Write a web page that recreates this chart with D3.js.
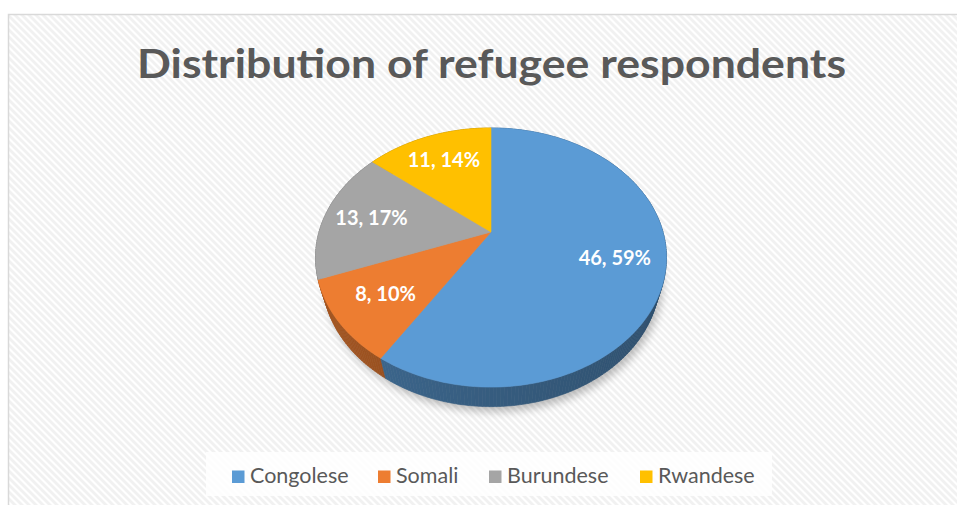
<!DOCTYPE html>
<html>
<head>
<meta charset="utf-8">
<script src="https://cdn.jsdelivr.net/npm/d3@7"></script>
<style>
  html, body { margin: 0; padding: 0; background: #fff; }
  svg { display: block; }
</style>
</head>
<body>
<svg id="chart" width="957" height="505"></svg>
<script>
// Refugee respondents by nationality
const categories = ["Congolese", "Somali", "Burundese", "Rwandese"];
const counts = [46, 8, 13, 11];
const colors = ["#5B9BD5", "#ED7D31", "#A5A5A5", "#FFC000"];
const title = "Distribution of refugee respondents";

const W = 957, H = 505;
const svg = d3.select("#chart");
const defs = svg.append("defs");

// diagonal striped chart-area fill
const pat = defs.append("pattern")
  .attr("id", "stripes").attr("patternUnits", "userSpaceOnUse")
  .attr("width", 7).attr("height", 7);
pat.append("rect").attr("width", 7).attr("height", 7).attr("fill", "#ffffff");
pat.append("path")
  .attr("d", "M-2,5 L2,9 M0,0 L7,7 M5,-2 L9,2")
  .attr("stroke", "#f1f1f1").attr("stroke-width", 2.8);

const blur = defs.append("filter").attr("id", "soft")
  .attr("x", "-20%").attr("y", "-20%").attr("width", "140%").attr("height", "140%");
blur.append("feGaussianBlur").attr("stdDeviation", 4);

// chart frame
svg.append("rect")
  .attr("x", 8.5).attr("y", 14.5).attr("width", W + 20).attr("height", H + 20)
  .attr("fill", "url(#stripes)").attr("stroke", "#d9d9d9").attr("stroke-width", 1.5);

// title
const titleText = svg.append("text")
  .attr("x", 491.5).attr("y", 78)
  .attr("text-anchor", "middle")
  .attr("font-family", "Lato, 'Open Sans', sans-serif")
  .attr("font-weight", 700).attr("font-size", 40)
  .attr("fill", "#595959")
  .text(title);
const tw = titleText.node().getComputedTextLength();
if (Math.abs(tw - 709) > 4) {
  titleText.attr("textLength", 709).attr("lengthAdjust", "spacingAndGlyphs");
}

// ---- perspective 3D pie ----
const view = {
  cx: 491, cy: 232,      // projected centre of the top face
  F: 172,                // focal scale (px per radius at centre depth)
  sinT: 0.724, cosT: 0.690, // tilt of the disc towards the viewer
  dist: 3.5,             // camera distance in radii
  thick: 0.19            // disc thickness in radii
};
function project(theta, r, level) {
  const X = r * Math.sin(theta);
  const Z = -r * Math.cos(theta);
  const Y = level;
  const w = 1 - (Y * view.sinT + Z * view.cosT) / view.dist;
  return [view.cx + view.F * X / w, view.cy + view.F * (Z * view.sinT - Y * view.cosT) / w];
}

const pie = d3.pie().sort(null).value(d => d)
  .startAngle(0).endAngle(2 * Math.PI);
const arcs = pie(counts);
const total = d3.sum(counts);
const line = d3.line();
const stepA = Math.PI / 180;

function arcAngles(a0, a1) {
  const n = Math.max(2, Math.ceil((a1 - a0) / stepA));
  return d3.range(n + 1).map(i => a0 + (a1 - a0) * i / n);
}

const pieG = svg.append("g");

// soft drop shadow under the disc
const baseRing = arcAngles(0, 2 * Math.PI).map(a => project(a, 1, -view.thick));
pieG.append("path")
  .attr("d", line(baseRing) + "Z")
  .attr("transform", "translate(3,5)")
  .attr("fill", "#000").attr("opacity", 0.25)
  .attr("filter", "url(#soft)");

// side walls, split into thin segments and painted far-to-near
const walls = [];
arcs.forEach((d, i) => {
  const angs = arcAngles(d.startAngle, d.endAngle);
  for (let j = 0; j < angs.length - 1; j++) {
    const a = angs[j], b = angs[j + 1], m = (a + b) / 2;
    walls.push({ i, a, b, depth: -Math.cos(m), m });
  }
});
walls.sort((p, q) => p.depth - q.depth);
function wallColor(s) {
  const lit = 0.5 - 0.5 * Math.sin(s.m); // brighter on the left
  return d3.color(colors[s.i]).darker(1.9 - 0.9 * lit).formatHex();
}
pieG.selectAll("path.wall").data(walls).join("path")
  .attr("class", "wall")
  .attr("d", s => line([
    project(s.a, 1, 0), project(s.b, 1, 0),
    project(s.b, 1, -view.thick), project(s.a, 1, -view.thick)
  ]) + "Z")
  .attr("fill", wallColor)
  .attr("stroke", wallColor)
  .attr("stroke-width", 0.6);

// top faces
pieG.selectAll("path.top").data(arcs).join("path")
  .attr("class", "top")
  .attr("d", d => line([project(0, 0, 0)].concat(
    arcAngles(d.startAngle, d.endAngle).map(a => project(a, 1, 0)))) + "Z")
  .attr("fill", (d, i) => colors[i])
  .attr("stroke", (d, i) => colors[i])
  .attr("stroke-width", 0.6);

// data labels: "value, percent"
pieG.selectAll("text.lbl").data(arcs).join("text")
  .attr("class", "lbl")
  .attr("x", d => project((d.startAngle + d.endAngle) / 2, 0.72, 0)[0])
  .attr("y", d => project((d.startAngle + d.endAngle) / 2, 0.72, 0)[1])
  .attr("dy", "0.36em")
  .attr("text-anchor", "middle")
  .attr("font-family", "Lato, 'Open Sans', sans-serif")
  .attr("font-weight", 700).attr("font-size", 20)
  .attr("fill", "#ffffff")
  .text(d => `${d.value}, ${Math.round(d.value / total * 100)}%`);

// ---- legend ----
svg.append("rect")
  .attr("x", 206).attr("y", 452).attr("width", 566).attr("height", 44)
  .attr("fill", "#ffffff").attr("opacity", 0.85);

const legendFont = "Lato, 'Open Sans', sans-serif";
const legendX = [232, 378, 489, 640];
const legend = svg.append("g");
categories.forEach((c, i) => {
  const g = legend.append("g").attr("transform", `translate(${legendX[i]},0)`);
  g.append("rect").attr("x", 0).attr("y", 470.5).attr("width", 12.5).attr("height", 12.5)
    .attr("fill", colors[i]);
  g.append("text").attr("x", 18).attr("y", 482.5)
    .attr("font-family", legendFont).attr("font-size", 21.5)
    .attr("fill", "#595959").text(c);
});
</script>
</body>
</html>
